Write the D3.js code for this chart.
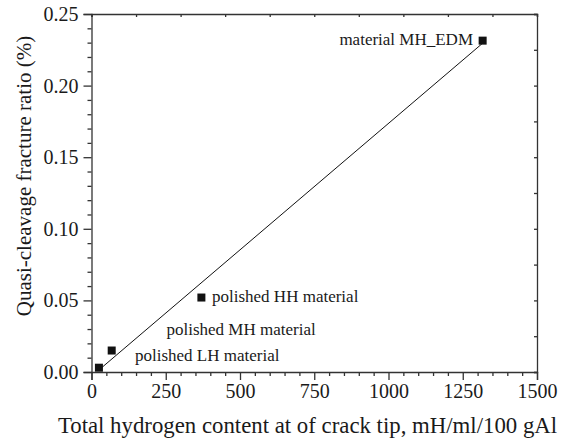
<!DOCTYPE html>
<html>
<head>
<meta charset="utf-8">
<script src="https://cdn.jsdelivr.net/npm/d3@7"></script>
<style>
  html, body { margin: 0; padding: 0; background: #fff; }
  svg { display: block; }
</style>
</head>
<body>
<svg id="chart" width="565" height="440"></svg>
<script>
// Measured points: total hydrogen content vs quasi-cleavage fracture ratio
const hydrogen = [25, 68, 370, 1317];
const fractureRatio = [0.003, 0.015, 0.052, 0.2314];
const pointLabels = ["polished LH material", "polished MH material", "polished HH material", "material MH_EDM"];

// Linear fit drawn across the measured range
const fitX = [25, 1317];
const fitY = [0.0014, 0.2296];

const xTicks = [0, 250, 500, 750, 1000, 1250, 1500];
const yTicks = [0.00, 0.05, 0.10, 0.15, 0.20, 0.25];

const FONT = '"Liberation Serif", "Times New Roman", serif';
const svg = d3.select("#chart");
const m = { left: 91.5, right: 537, top: 14, bottom: 372 };

const x = d3.scaleLinear().domain([0, 1500]).range([m.left, m.right]);
const y = d3.scaleLinear().domain([0, 0.25]).range([m.bottom, m.top]);

const axisColor = "#333";

// Bottom axis: major labelled ticks plus minor ticks every 50
const xMinor = d3.range(0, 1501, 50).filter(v => v % 250 !== 0);
svg.append("g").attr("transform", `translate(0,${m.bottom})`)
  .call(d3.axisBottom(x).tickValues(xMinor).tickSize(4).tickFormat(""))
  .call(g => g.select(".domain").remove());
const gx = svg.append("g").attr("transform", `translate(0,${m.bottom})`)
  .call(d3.axisBottom(x).tickValues(xTicks).tickSize(8).tickPadding(4).tickFormat(d3.format("d")));
gx.selectAll("text").attr("font-size", 20);

// Left axis: major labelled ticks plus minor ticks every 0.01
const yMinor = d3.range(0, 26, 1).map(v => v / 100).filter((v, i) => i % 5 !== 0);
svg.append("g").attr("transform", `translate(${m.left},0)`)
  .call(d3.axisLeft(y).tickValues(yMinor).tickSize(4).tickFormat(""))
  .call(g => g.select(".domain").remove());
const gy = svg.append("g").attr("transform", `translate(${m.left},0)`)
  .call(d3.axisLeft(y).tickValues(yTicks).tickSize(8).tickPadding(5).tickFormat(d3.format(".2f")));
gy.selectAll("text").attr("font-size", 20);

// Top and right frame with small inward ticks
svg.append("g").attr("transform", `translate(0,${m.top})`)
  .call(d3.axisBottom(x).tickValues(d3.range(0, 1501, 150)).tickSize(3).tickFormat(""));
svg.append("g").attr("transform", `translate(${m.right},0)`)
  .call(d3.axisLeft(y).tickValues(d3.range(0, 11).map(i => i * 0.025)).tickSize(3).tickFormat(""));

svg.selectAll(".domain, .tick line").attr("stroke", axisColor).attr("stroke-width", 1.3);

// Fit line
svg.append("path")
  .datum(d3.zip(fitX, fitY))
  .attr("fill", "none")
  .attr("stroke", "#111")
  .attr("stroke-width", 1)
  .attr("d", d3.line().x(d => x(d[0])).y(d => y(d[1])));

// Square markers
const s = 8;
svg.append("g").selectAll("rect")
  .data(d3.zip(hydrogen, fractureRatio))
  .join("rect")
  .attr("x", d => x(d[0]) - s / 2)
  .attr("y", d => y(d[1]) - s / 2)
  .attr("width", s).attr("height", s)
  .attr("fill", "#111");

// Point annotations
const annot = [
  { t: pointLabels[0], x: 135, y: 361, a: "start" },
  { t: pointLabels[1], x: 166.5, y: 335, a: "start" },
  { t: pointLabels[2], x: 212, y: 302, a: "start" },
  { t: pointLabels[3], x: 473, y: 45, a: "end" }
];
svg.append("g").selectAll("text")
  .data(annot)
  .join("text")
  .attr("x", d => d.x).attr("y", d => d.y)
  .attr("text-anchor", d => d.a)
  .attr("font-size", 17)
  .text(d => d.t);

// Axis titles
svg.append("text")
  .attr("x", 307.5).attr("y", 432.5)
  .attr("text-anchor", "middle").attr("font-size", 22.8)
  .text("Total hydrogen content at of crack tip, mH/ml/100 gAl");
svg.append("text")
  .attr("transform", "translate(31,176) rotate(-90)")
  .attr("text-anchor", "middle").attr("font-size", 21)
  .text("Quasi-cleavage fracture ratio (%)");

svg.selectAll("text").style("font-family", FONT).attr("fill", "#1a1a1a");
</script>
</body>
</html>
